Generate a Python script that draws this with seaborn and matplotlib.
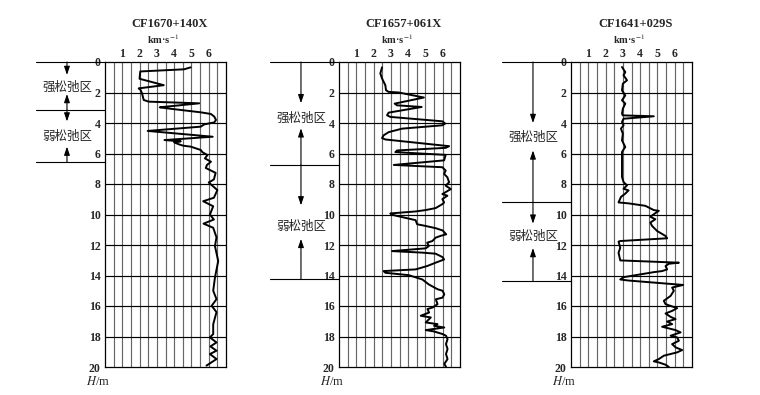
import numpy as np
import matplotlib
matplotlib.use("Agg")
import matplotlib.pyplot as plt
import seaborn as sns

titles = ["CF1670+140X", "CF1657+061X", "CF1641+029S"]

# borehole 1
depth_1 = [0.35, 0.48, 0.62, 1.1, 1.52, 1.73, 1.82, 2.05, 2.49, 2.6,
           2.71, 2.97, 3.04, 3.3, 3.41, 3.58, 3.8, 3.96, 4.09, 4.24,
           4.52, 4.9, 5.12, 5.2, 5.27, 5.4, 5.49, 5.55, 5.77, 5.92,
           6.1, 6.32, 6.54, 6.75, 6.95, 7.27, 7.7, 7.9, 8.4, 8.9,
           9.13, 9.46, 10.0, 10.33, 10.6, 10.87, 11.5, 12.07, 13.05, 14.14,
           15.0, 15.55, 15.99, 16.4, 17.2, 17.84, 18.06, 18.39, 18.65, 18.93,
           19.15, 19.48, 19.91]
vel_1 = [4.96, 4.57, 2.04, 2.0, 3.4, 1.95, 2.05, 2.14, 2.24, 2.53,
         5.45, 3.17, 3.6, 5.54, 6.13, 6.32, 6.42, 6.32, 5.74, 5.54,
         2.47, 6.23, 3.44, 4.38, 4.0, 4.28, 4.53, 4.96, 5.54, 5.64,
         5.93, 5.78, 6.13, 5.9, 5.83, 6.4, 6.3, 6.0, 6.5, 6.3,
         5.68, 6.26, 6.07, 6.3, 5.7, 6.26, 6.45, 6.36, 6.55, 6.36,
         6.26, 6.45, 6.17, 6.45, 6.26, 6.26, 6.07, 6.45, 6.1, 6.45,
         6.07, 6.45, 5.87]

# borehole 2
depth_2 = [0.35, 0.75, 1.08, 1.52, 1.85, 1.96, 2.0, 2.33, 2.73, 2.84,
           2.95, 3.32, 3.49, 3.6, 3.89, 4.04, 4.15, 4.37, 4.6, 4.81,
           4.99, 5.08, 5.52, 5.63, 5.8, 5.91, 6.09, 6.45, 6.75, 6.9,
           7.12, 7.34, 7.56, 7.89, 8.11, 8.33, 8.66, 8.77, 8.99, 9.21,
           9.32, 9.58, 9.71, 9.8, 9.93, 10.02, 10.37, 10.64, 10.75, 10.9,
           11.05, 11.3, 11.4, 11.52, 11.74, 11.85, 12.07, 12.22, 12.4, 12.5,
           12.57, 12.79, 12.95, 13.16, 13.38, 13.6, 13.71, 13.82, 13.98, 14.26,
           14.59, 14.9, 15.0, 15.23, 15.45, 15.56, 15.88, 16.1, 16.2, 16.43,
           16.64, 16.75, 17.08, 17.19, 17.3, 17.41, 17.58, 17.67, 17.84, 17.95,
           18.17, 18.5, 18.82, 19.15, 19.48, 19.8, 19.98]
vel_2 = [2.49, 2.39, 2.49, 2.68, 2.72, 2.87, 3.46, 4.91, 3.22, 3.36,
         4.78, 2.87, 2.78, 2.97, 5.98, 6.14, 5.98, 3.65, 2.87, 2.58,
         2.49, 2.68, 6.37, 6.17, 3.36, 3.26, 6.17, 6.08, 3.17, 5.98,
         6.17, 6.08, 6.27, 6.37, 6.17, 6.47, 5.98, 6.27, 5.98, 6.08,
         5.98, 5.59, 5.01, 4.43, 2.97, 3.07, 4.43, 4.52, 5.01, 5.6,
         6.0, 6.2, 5.88, 5.59, 5.4, 5.1, 5.2, 5.01, 3.07, 4.82,
         5.59, 5.98, 6.08, 5.59, 5.1, 4.43, 2.58, 2.68, 4.04, 4.82,
         5.2, 5.7, 5.99, 6.09, 5.99, 5.6, 5.7, 5.41, 5.12, 5.21,
         4.73, 5.31, 5.02, 5.7, 5.5, 6.09, 5.02, 5.5, 5.99, 6.19,
         6.28, 6.19, 6.28, 6.19, 6.28, 6.09, 6.19]

# borehole 3
depth_3 = [0.33, 0.66, 0.87, 1.2, 1.42, 1.86, 2.19, 2.51, 2.73, 3.06,
           3.39, 3.5, 3.56, 3.72, 3.93, 4.15, 4.37, 4.7, 5.14, 5.57,
           5.9, 6.89, 7.54, 7.87, 8.09, 8.31, 8.42, 8.63, 8.85, 9.21,
           9.27, 9.43, 9.71, 9.76, 9.98, 10.15, 10.31, 10.53, 10.75, 11.08,
           11.41, 11.56, 11.74, 11.78, 12.18, 12.51, 13.01, 13.16, 13.23, 13.38,
           13.6, 13.71, 13.78, 14.11, 14.26, 14.33, 14.62, 14.79, 15.0, 15.34,
           15.66, 15.88, 16.14, 16.32, 16.49, 16.71, 16.86, 17.02, 17.19, 17.36,
           17.58, 17.73, 17.95, 18.06, 18.28, 18.5, 18.71, 18.89, 19.04, 19.26,
           19.48, 19.63, 19.7, 19.85, 20.0]
vel_3 = [2.95, 3.14, 3.04, 3.24, 3.0, 2.95, 3.14, 2.95, 3.14, 3.0,
         2.95, 3.0, 4.79, 3.04, 2.95, 3.04, 2.89, 3.0, 2.95, 3.14,
         2.95, 2.95, 2.95, 3.04, 3.24, 3.04, 3.33, 3.14, 2.89, 2.75,
         3.33, 4.3, 4.79, 5.08, 4.79, 4.59, 4.88, 4.59, 4.69, 4.98,
         5.47, 5.56, 2.85, 2.75, 2.85, 2.75, 2.85, 6.24, 5.66, 5.47,
         5.56, 5.27, 4.79, 3.04, 2.85, 3.33, 6.49, 5.85, 5.95, 5.76,
         5.37, 5.47, 6.14, 5.85, 5.47, 5.76, 6.05, 5.56, 5.85, 5.27,
         6.05, 6.34, 5.76, 6.14, 6.24, 5.85, 6.05, 6.43, 6.14, 5.37,
         5.08, 4.79, 5.08, 5.47, 5.66]

depths = [depth_1, depth_2, depth_3]
vels = [vel_1, vel_2, vel_3]

# zone boundaries, label depths and arrow tips (m)
zone_names = ["强松弛区", "弱松弛区"]
zone_bounds = [[0, 3.15, 6.55], [0, 6.75, 14.25], [0, 9.2, 14.35]]
zone_label_y = [[1.65, 4.9], [3.72, 10.75], [4.95, 11.45]]
zone_tips = [[(0.85, 2.1), (3.9, 5.55)],
             [(2.7, 4.35), (9.4, 11.6)],
             [(4.0, 5.8), (10.6, 12.2)]]

sns.set_style("white")
plt.rcParams["font.family"] = ["Liberation Serif", "Noto Sans CJK SC"]
plt.rcParams["mathtext.fontset"] = "stix"

fig = plt.figure(figsize=(7.6, 3.95), dpi=100)
lefts = [105, 339, 571]

for i in range(3):
    ax = fig.add_axes([lefts[i] / 760, 28 / 395, 121 / 760, 305 / 395])

    # grid
    ax.vlines(np.arange(0.5, 7, 0.5), 0, 20, color="0.4", lw=0.85, zorder=1)
    ax.hlines(np.arange(2, 20, 2), 0, 7, color="black", lw=0.85, zorder=1)

    sns.lineplot(x=vels[i], y=depths[i], sort=False, estimator=None,
                 color="black", lw=1.4, ax=ax, zorder=3)

    ax.set_xlim(0, 7)
    ax.set_ylim(20, 0)
    ax.set_xlabel("")
    ax.set_ylabel("")
    ax.xaxis.tick_top()
    ax.set_xticks(range(1, 7))
    ax.set_xticklabels([str(k) for k in range(1, 7)], fontsize=8.5, fontweight="bold")
    ax.set_yticks(range(0, 21, 2))
    ax.set_yticklabels([str(k) for k in range(0, 21, 2)], fontsize=8.5, fontweight="bold")
    ax.tick_params(axis="x", length=0, pad=1.5)
    ax.tick_params(axis="y", length=0, pad=3)
    for s in ax.spines.values():
        s.set_color("black")
        s.set_linewidth(0.9)

    ax.text(0.53, 1 + 38 / 305, titles[i], transform=ax.transAxes,
            ha="center", va="center", fontsize=9, fontweight="bold")
    ax.text(0.48, 1 + 23 / 305, "km·s$^{-1}$", transform=ax.transAxes,
            ha="center", va="center", fontsize=7.5, fontweight="bold")
    ax.text(-0.06, -0.046, "$H$/m", transform=ax.transAxes,
            ha="center", va="center", fontsize=9)

    # relaxation zones
    bounds = zone_bounds[i]
    for b in bounds:
        ax.plot([-4.0, 0], [b, b], color="black", lw=0.8, clip_on=False)
    for z in range(2):
        top, bot = bounds[z], bounds[z + 1]
        tip_down, tip_up = zone_tips[i][z]
        for start, tip in [(top, tip_down), (bot, tip_up)]:
            ax.annotate("", xy=(-2.2, tip), xytext=(-2.2, start),
                        arrowprops=dict(arrowstyle="-|>,head_length=0.5,head_width=0.17",
                                        color="black", lw=0.8, shrinkA=0, shrinkB=0),
                        annotation_clip=False)
        ax.text(-2.2, zone_label_y[i][z], zone_names[z], ha="center", va="center",
                fontsize=9, family=["Noto Sans CJK SC"])

fig.savefig("out.png", dpi=100)
